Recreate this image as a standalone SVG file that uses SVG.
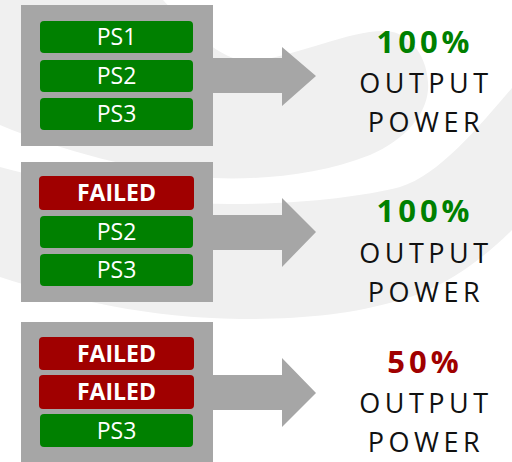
<svg xmlns="http://www.w3.org/2000/svg" width="512" height="462" viewBox="0 0 512 462">
  <style>
    .bg { fill: #f0f0f0; }
    .panel { fill: #a6a6a6; }
    .ok { fill: #008000; }
    .bad { fill: #a00000; }
    .lbl { font-family: "Open Sans", "Liberation Sans", sans-serif; font-size: 23px; fill: #ffffff; text-anchor: middle; }
    .lblb { font-family: "Open Sans", "Liberation Sans", sans-serif; font-size: 23px; font-weight: bold; fill: #ffffff; text-anchor: middle; }
    .pct { font-family: "Open Sans", "Liberation Sans", sans-serif; font-size: 31px; font-weight: bold; letter-spacing: 4px; text-anchor: middle; }
    .out { font-family: "Open Sans", "Liberation Sans", sans-serif; font-size: 27px; letter-spacing: 4.5px; fill: #111111; text-anchor: middle; }
    .arrow { fill: #a6a6a6; }
  </style>
  <rect width="512" height="462" fill="#ffffff"/>
  <g id="background">
    <path class="bg" d="M0,0 L163,0 C190,30 220,60 250,62 C300,55 350,30 385,31 C415,32 430,65 428,90 C426,115 405,140 370,155 C320,175 260,180 213,178 C140,172 60,150 0,125 Z"/>
    <path class="bg" d="M0,167 C70,185 150,204 230,204 C300,204 360,197 400,187 C440,175 480,125 512,88 L512,230 C480,262 440,290 400,300 C350,315 300,319 240,319 C150,318 70,300 0,277 Z"/>
  </g>
  <g id="connectors">
    <path class="arrow" d="M213,58 L282,58 L282,47 L316,76 L282,106 L282,93 L213,93 Z"/>
    <path class="arrow" d="M213,215 L282,215 L282,198 L316,232 L282,267 L282,250 L213,250 Z"/>
    <path class="arrow" d="M213,375 L282,375 L282,358 L316,393 L282,427 L282,410 L213,410 Z"/>
  </g>
  <g id="panel1">
    <rect class="panel" x="21" y="5" width="192" height="141"/>
    <g id="p1-ps1"><rect class="ok" x="40" y="21" width="153" height="32" rx="4"/><text class="lbl" x="116.5" y="45.2">PS1</text></g>
    <g id="p1-ps2"><rect class="ok" x="40" y="60" width="153" height="32" rx="4"/><text class="lbl" x="116.5" y="84.2">PS2</text></g>
    <g id="p1-ps3"><rect class="ok" x="40" y="98" width="153" height="32" rx="4"/><text class="lbl" x="116.5" y="122.2">PS3</text></g>
  </g>
  <g id="panel2">
    <rect class="panel" x="21" y="162" width="192" height="140"/>
    <g id="p2-failed"><rect class="bad" x="39" y="176" width="155" height="34" rx="4"/><text class="lblb" x="116.5" y="201.2">FAILED</text></g>
    <g id="p2-ps2"><rect class="ok" x="40" y="216" width="153" height="32" rx="4"/><text class="lbl" x="116.5" y="240.2">PS2</text></g>
    <g id="p2-ps3"><rect class="ok" x="40" y="254" width="153" height="32" rx="4"/><text class="lbl" x="116.5" y="278.2">PS3</text></g>
  </g>
  <g id="panel3">
    <rect class="panel" x="21" y="322" width="192" height="142"/>
    <g id="p3-failed1"><rect class="bad" x="39" y="337" width="155" height="33" rx="4"/><text class="lblb" x="116.5" y="361.7">FAILED</text></g>
    <g id="p3-failed2"><rect class="bad" x="39" y="375" width="155" height="34" rx="4"/><text class="lblb" x="116.5" y="400.2">FAILED</text></g>
    <g id="p3-ps3"><rect class="ok" x="40" y="414" width="153" height="33" rx="4"/><text class="lbl" x="116.5" y="438.7">PS3</text></g>
  </g>
  <g id="result1">
    <text class="pct" x="425" y="53" fill="#008000">100%</text>
    <text class="out" x="426" y="93">OUTPUT</text>
    <text class="out" x="426" y="132">POWER</text>
  </g>
  <g id="result2">
    <text class="pct" x="425" y="222" fill="#008000">100%</text>
    <text class="out" x="426" y="263">OUTPUT</text>
    <text class="out" x="426" y="302">POWER</text>
  </g>
  <g id="result3">
    <text class="pct" x="425" y="373" fill="#a00000">50%</text>
    <text class="out" x="426" y="413">OUTPUT</text>
    <text class="out" x="426" y="452">POWER</text>
  </g>
</svg>
